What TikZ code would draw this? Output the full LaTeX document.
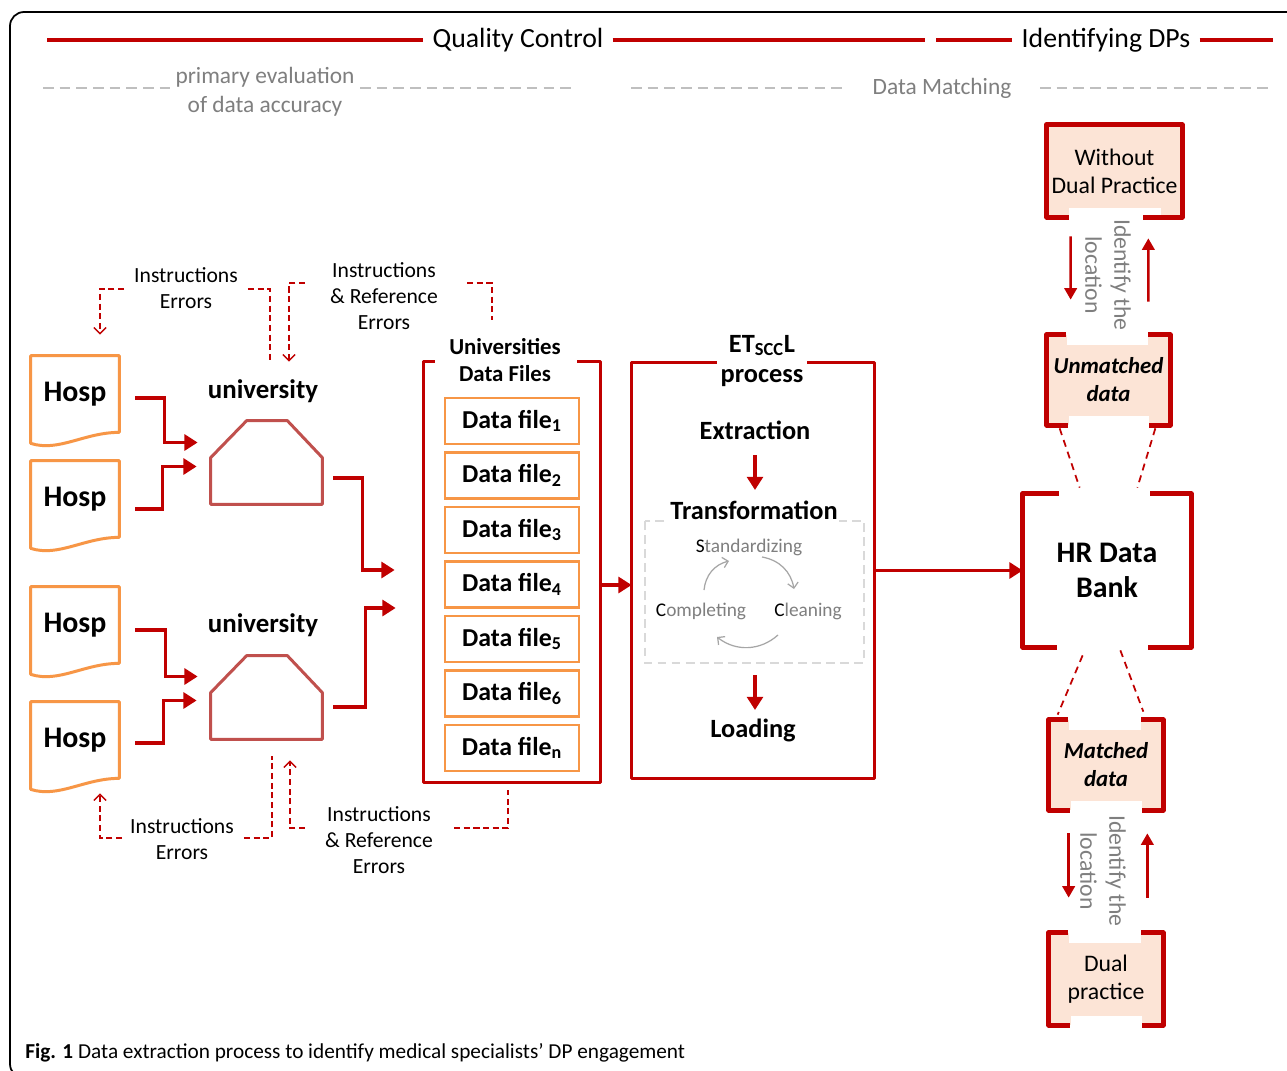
\documentclass[tikz,border=0pt]{standalone}
\usepackage{fontspec}
\setmainfont{Carlito}
\usetikzlibrary{calc,arrows.meta,positioning}

\definecolor{dkred}{HTML}{C00000}
\definecolor{orng}{HTML}{F79646}
\definecolor{univred}{HTML}{C0504D}
\definecolor{txtgray}{HTML}{7F7F7F}
\definecolor{dashgray}{HTML}{BFBFBF}
\definecolor{boxgray}{HTML}{D9D9D9}
\definecolor{cycgray}{HTML}{A6A6A6}
\definecolor{peach}{HTML}{FCE4D6}

\tikzset{
  hdrline/.style={draw=dkred,line width=2.2pt},
  hdrtext/.style={font=\fontsize{15.8}{18}\selectfont,inner sep=1.8mm},
  subtext/.style={text=txtgray,font=\fontsize{13.3}{16.4}\selectfont,align=center},
  graydash/.style={draw=dashgray,line width=1.1pt,dash pattern=on 6pt off 3.5pt},
  flow/.style={draw=dkred,line width=2pt,-{Triangle[length=7.5pt,width=9pt]}},
  thinflow/.style={draw=dkred,line width=1.5pt,-{Triangle[length=6.5pt,width=7pt]}},
  errline/.style={draw=dkred,line width=0.8pt,dash pattern=on 3.5pt off 2pt},
  errarrow/.style={errline,-{Straight Barb[length=3.5pt,width=7pt]}},
  errtext/.style={font=\fontsize{12.3}{14.6}\selectfont,align=center},
  hosp/.style={minimum width=17.6mm,minimum height=15.2mm,inner sep=0pt,
    font=\fontsize{17}{20}\selectfont\bfseries},
  docline/.style={draw=orng,line width=1.7pt,line join=round},
  unibox/.style={minimum width=22.2mm,minimum height=16.6mm,inner sep=0pt},
  unishape/.style={draw=univred,line width=1.7pt,line join=round},
  unilabel/.style={font=\fontsize{15.3}{18}\selectfont\bfseries},
  boxline/.style={draw=dkred,line width=1.8pt,line join=round},
  titletext/.style={font=\fontsize{13}{15.5}\selectfont\bfseries,align=center},
  datafile/.style={draw=orng,line width=1.7pt,minimum width=26.8mm,minimum height=9.2mm,
    inner sep=0pt,font=\fontsize{14.7}{17}\selectfont\bfseries},
  stage/.style={font=\fontsize{15}{17.5}\selectfont\bfseries,align=center},
  transdash/.style={draw=boxgray,line width=1.6pt,dash pattern=on 5pt off 3pt},
  cyc/.style={text=txtgray,font=\fontsize{11}{13}\selectfont},
  cycarrow/.style={draw=cycgray,line width=0.7pt,-{Straight Barb[length=3pt,width=6pt]}},
  hrbox/.style={minimum width=33.6mm,minimum height=30.6mm,inner sep=0pt,align=center,
    font=\fontsize{17}{20}\selectfont\bfseries},
  brk/.style={draw=dkred,line width=2.6pt,line join=round},
  pbox/.style={fill=peach,inner sep=0pt,align=center,font=\fontsize{13.5}{16}\selectfont},
  idtext/.style={text=txtgray,align=center,font=\fontsize{13.5}{16.4}\selectfont},
  reddash/.style={draw=dkred,line width=1pt,dash pattern=on 4pt off 3pt}
}

\begin{document}
\begin{tikzpicture}[x=0.2mm,y=-0.2mm]
  \useasboundingbox (0,0) rectangle (1287,1071);
  \clip (0,0) rectangle (1287,1071);
  \fill[white] (0,0) rectangle (1287,1071);
  \draw[line width=1pt,rounded corners=8pt] (10,12) rectangle (1320,1078);

  % header
  \node[hdrtext] (qc) at (518,40) {Quality Control};
  \draw[hdrline] (47,40) -- (qc.west);
  \draw[hdrline] (qc.east) -- (925,40);
  \node[hdrtext] (idp) at (1106,40) {Identifying DPs};
  \draw[hdrline] (936,40) -- (idp.west);
  \draw[hdrline] (idp.east) -- (1273,40);
  \node[subtext] (pe) at (265,92) {primary evaluation\\of data accuracy};
  \draw[graydash] (43,88) -- (172,88);
  \draw[graydash] (360,88) -- (575,88);
  \node[subtext] (dm) at (942,88) {Data Matching};
  \draw[graydash] (631,88) -- (848,88);
  \draw[graydash] (1040,88) -- (1273,88);

  % hospitals
  \foreach \n/\t in {1/394,2/499,3/625,4/740}
    \node[hosp] (h\n) at (75,\t) {Hosp};
  \foreach \n in {1,...,4}
    \draw[docline] ($(h\n.south west)+(0,11)$) -- (h\n.north west) -- (h\n.north east)
      -- (h\n.south east) .. controls ($(h\n.south east)+(-35,0)$) and ($(h\n.south west)+(28,20)$)
      .. ($(h\n.south west)+(0,11)$) -- cycle;

  % universities
  \node[unibox] (u1) at (266.5,462.5) {};
  \node[unibox] (u2) at (266.5,697.5) {};
  \foreach \u in {u1,u2}
    \draw[unishape] (\u.south west) -- ($(\u.north west)+(0,37)$) -- ($(\u.north west)+(36,0)$)
      -- ($(\u.north east)+(-35,0)$) -- ($(\u.north east)+(0,37)$) -- (\u.south east) -- cycle;
  \node[unilabel] (ul1) at (263,391) {university};
  \node[unilabel] (ul2) at (263,625) {university};

  \draw[flow] ($(h1.east)+(16,4)$) -| ($(u1.west)+(-46,-20)$) -- ($(u1.west)+(-13,-20)$);
  \draw[flow] ($(h2.east)+(16,10)$) -| ($(u1.west)+(-48,4)$) -- ($(u1.west)+(-14,4)$);
  \draw[flow] ($(h3.east)+(16,5)$) -| ($(u2.west)+(-45,-21)$) -- ($(u2.west)+(-13,-21)$);
  \draw[flow] ($(h4.east)+(16,3)$) -| ($(u2.west)+(-47,3)$) -- ($(u2.west)+(-14,3)$);

  % universities data files
  \node[minimum width=35.2mm,minimum height=84mm,inner sep=0pt] (dfbox) at (512,572) {};
  \draw[boxline] ($(dfbox.north west)+(11,0)$) -- (dfbox.north west) -- (dfbox.south west)
    -- (dfbox.south east) -- (dfbox.north east) -- ($(dfbox.north east)+(-23,0)$);
  \node[titletext] (dft) at (505,360) {Universities\\Data Files};
  \foreach \i/\s in {1/1,2/2,3/3,4/4,5/5,6/6,7/n}
    \node[datafile] (df\i) at (512,{421+(\i-1)*54.5}) {Data file\textsubscript{\s}};

  \draw[flow] ($(u1.east)+(11,15.5)$) -| ($(dfbox.west)+(-61,-2)$) -- ($(dfbox.west)+(-29,-2)$);
  \draw[flow] ($(u2.east)+(11,9.5)$) -| ($(dfbox.west)+(-58,36)$) -- ($(dfbox.west)+(-28,36)$);

  % error feedback
  \node[errtext] (ie1) at (186,288) {Instructions\\Errors};
  \draw[errarrow] ($(ie1.west)+(-4,1)$) -| ($(h1.north)+(25,-21)$);
  \draw[errline] ($(ie1.east)+(4,1)$) -| ($(u1.north)+(3.5,-61)$);
  \node[errtext] (ir1) at (384,296) {Instructions\\\& Reference\\Errors};
  \draw[errarrow] ($(ir1.west)+(-19,-13)$) -| ($(u1.north)+(22.5,-59)$);
  \draw[errline] ($(ir1.east)+(23,-13)$) -| ($(dfbox.north)+(-20,-42)$);
  \node[errtext] (ie2) at (182,839) {Instructions\\Errors};
  \draw[errarrow] ($(ie2.west)+(-2,-1)$) -| ($(h4.south)+(25,15)$);
  \draw[errline] ($(ie2.east)+(4,-1)$) -| ($(u2.south)+(5.5,17)$);
  \node[errtext] (ir2) at (379,840) {Instructions\\\& Reference\\Errors};
  \draw[errarrow] ($(ir2.west)+(-14,-12)$) -| ($(u2.south)+(23.5,21)$);
  \draw[errline] ($(ir2.east)+(15,-12)$) -| ($(dfbox.south)+(-4,8)$);

  % ETL process
  \node[minimum width=48.4mm,minimum height=83mm,inner sep=0pt] (etl) at (753,570.5) {};
  \draw[boxline] ($(etl.north west)+(85,0)$) -- (etl.north west) -- (etl.south west)
    -- (etl.south east) -- (etl.north east) -- ($(etl.north east)+(-67,0)$);
  \node[stage] (etlt) at (762,361) {ET\textsubscript{SCC}L\\process};
  \draw[flow] ($(dfbox.east)+(0,13)$) -- ($(etl.west)+(0,14.5)$);

  \node[stage] (ex) at (755,430) {Extraction};
  \draw[transdash] (645,521) rectangle (864,663);
  \node[stage,fill=white,inner xsep=1pt,inner ysep=3pt] (tr) at (754,510) {Transformation};
  \draw[flow] ($(ex)+(0,25)$) -- ($(ex)+(0,60)$);
  \node[cyc] (st) at (749,547) {\textcolor{black}{S}tandardizing};
  \node[cyc] (co) at (701,611) {\textcolor{black}{C}ompleting};
  \node[cyc] (cl) at (808,611) {\textcolor{black}{C}leaning};
  \draw[cycarrow] ($(co)+(3,-21)$) to[bend left=35] ($(st)+(-20,14)$);
  \draw[cycarrow] ($(st)+(13,10)$) to[bend left=35] ($(st)+(45,42)$);
  \draw[cycarrow] ($(cl)+(-30,24)$) to[bend left=40] ($(co)+(16,26)$);
  \node[stage] (lo) at (753,730) {Loading};
  \draw[flow] ($(lo)+(2,-55)$) -- ($(lo)+(2,-20)$);

  % HR data bank
  \node[hrbox] (hr) at (1107,570.5) {HR Data\\Bank};
  \draw[brk] ($(hr.north west)+(36,0)$) -- (hr.north west) -- (hr.south west) -- ($(hr.south west)+(34,0)$);
  \draw[brk] ($(hr.north east)+(-41,0)$) -- (hr.north east) -- (hr.south east) -- ($(hr.south east)+(-43,0)$);
  \draw[flow] (etl.east) -- (hr.west);

  % identifying DPs
  \node[pbox,minimum width=27mm,minimum height=18.4mm] (wo) at (1114.5,171) {Without\\Dual Practice};
  \node[pbox,minimum width=24.6mm,minimum height=18mm,font=\fontsize{13}{16}\selectfont\bfseries\itshape] (um) at (1108.5,380) {Unmatched\\data};
  \node[pbox,minimum width=22.8mm,minimum height=18mm,font=\fontsize{13}{16}\selectfont\bfseries\itshape] (ma) at (1106,765) {Matched\\data};
  \node[pbox,minimum width=22.8mm,minimum height=18.4mm] (dp) at (1106,979) {Dual\\practice};
  \foreach \b in {um,ma,dp}
    \fill[white] ($(\b.north west)+(20,-2)$) rectangle ($(\b.north east)+(-22,10)$);
  \foreach \b in {wo,um,ma,dp}
    \fill[white] ($(\b.south west)+(22,-9)$) rectangle ($(\b.south east)+(-21,2)$);
  \foreach \b in {um,ma,dp} {
    \draw[brk] ($(\b.north west)+(19,0)$) -- (\b.north west) -- (\b.south west) -- ($(\b.south west)+(21,0)$);
    \draw[brk] ($(\b.north east)+(-22,0)$) -- (\b.north east) -- (\b.south east) -- ($(\b.south east)+(-21,0)$);
  }
  \draw[brk] ($(wo.south west)+(22,0)$) -- (wo.south west) -- (wo.north west) -- (wo.north east)
    -- (wo.south east) -- ($(wo.south east)+(-39,0)$);

  \node[idtext,rotate=-90] (id1) at (1108,275) {Identify the\\location};
  \node[idtext,rotate=-90] (id2) at (1103,871) {Identify the\\location};
  \draw[thinflow] ($(wo.south west)+(24,19)$) -- ($(um.north west)+(24,-35)$);
  \draw[thinflow] ($(um.north east)+(-22,-33)$) -- ($(wo.south east)+(-34,21)$);
  \draw[thinflow] ($(ma.south west)+(20,23)$) -- ($(dp.north west)+(20,-35)$);
  \draw[thinflow] ($(dp.north east)+(-16,-35)$) -- ($(ma.south east)+(-16,23)$);

  \draw[reddash] ($(um.south west)+(13,3)$) -- ($(hr.north west)+(57,-6)$);
  \draw[reddash] ($(um.south east)+(-15,3)$) -- ($(hr.north east)+(-54,-6)$);
  \draw[reddash] ($(hr.south west)+(60,8)$) -- ($(ma.north west)+(9,-5)$);
  \draw[reddash] ($(hr.south east)+(-71,3)$) -- ($(ma.north east)+(-20,-8)$);

  % caption
  \node[anchor=west,inner sep=0pt,font=\fontsize{12.1}{14}\selectfont] (cap) at (25,1053)
    {\textbf{Fig. 1} Data extraction process to identify medical specialists’ DP engagement};
\end{tikzpicture}
\end{document}
